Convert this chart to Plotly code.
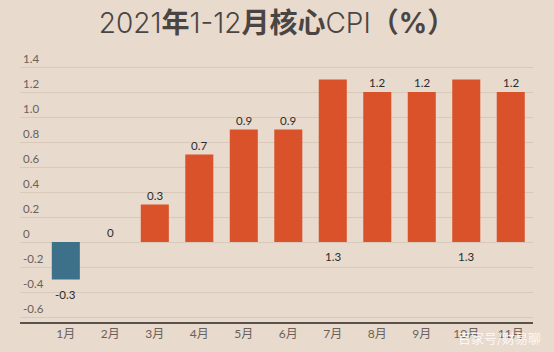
import plotly.graph_objects as go

months = ["1月", "2月", "3月", "4月", "5月", "6月", "7月", "8月", "9月", "10月", "11月"]
values = [-0.3, 0.0, 0.3, 0.7, 0.9, 0.9, 1.3, 1.2, 1.2, 1.3, 1.2]
value_text = ["-0.3", "0", "0.3", "0.7", "0.9", "0.9", "1.3", "1.2", "1.2", "1.3", "1.2"]
# where each value label sits: "end" = beyond bar end, "base" = under the zero line
label_place = ["end", "end", "end", "end", "end", "end", "base", "end", "end", "base", "end"]
tick_vals = [1.4, 1.2, 1.0, 0.8, 0.6, 0.4, 0.2, 0.0, -0.2, -0.4, -0.6]
tick_text = ["1.4", "1.2", "1.0", "0.8", "0.6", "0.4", "0.2", "0", "-0.2", "-0.4", "-0.6"]

ORANGE = "#d9522a"
BLUE = "#3c7189"
BG = "#e8dacd"

bar_colors = [BLUE if v < 0 else ORANGE for v in values]

fig = go.Figure()
fig.add_trace(go.Bar(x=months, y=values, marker_color=bar_colors,
                     marker_line_width=0, hoverinfo="skip"))

annotations = []
for m, v, t, p in zip(months, values, value_text, label_place):
    below = (p == "base") or v < 0
    annotations.append(dict(
        x=m, y=(0 if p == "base" else v), xref="x", yref="y", text=t, showarrow=False,
        yanchor="top" if below else "bottom", yshift=-6 if below else 1,
        font=dict(family="Lato, Noto Sans", size=11.5, color="#2b2b2b"),
    ))
annotations.append(dict(
    text="百家号/财易聊", xref="paper", yref="paper", x=1.02, y=-0.055,
    xanchor="right", yanchor="middle", showarrow=False,
    font=dict(family="Noto Sans CJK SC", size=13, color="rgba(255,255,255,0.85)"),
))

fig.update_layout(
    width=554, height=352,
    margin=dict(l=20, r=21, t=47, b=30),
    paper_bgcolor=BG, plot_bgcolor=BG,
    showlegend=False,
    bargap=0.37,
    title=dict(
        text="2021<b>年</b>1-12<b>月核心</b>CPI<b>（%）</b>",
        x=0.5, xanchor="center", y=0.935, yanchor="middle",
        font=dict(family="Inter, Noto Sans CJK SC", size=28, color="#4a4542", weight=300),
    ),
    xaxis=dict(
        range=[-1.03, 10.5], showline=True, linecolor="#5b524b", linewidth=1.5,
        showgrid=False, ticks="",
        tickfont=dict(family="Lato, Noto Sans CJK SC", size=12, color="#6a615c"),
    ),
    yaxis=dict(
        range=[-0.64, 1.56], tickvals=tick_vals, ticktext=tick_text,
        ticklabelposition="inside", ticklabelshift=-8, ticks="",
        showgrid=True, gridcolor="#d9c9bb", gridwidth=1, zeroline=False,
        tickfont=dict(family="Lato, Noto Sans", size=11.5, color="#6a615c"),
    ),
    annotations=annotations,
)

fig.write_html("out.html")
